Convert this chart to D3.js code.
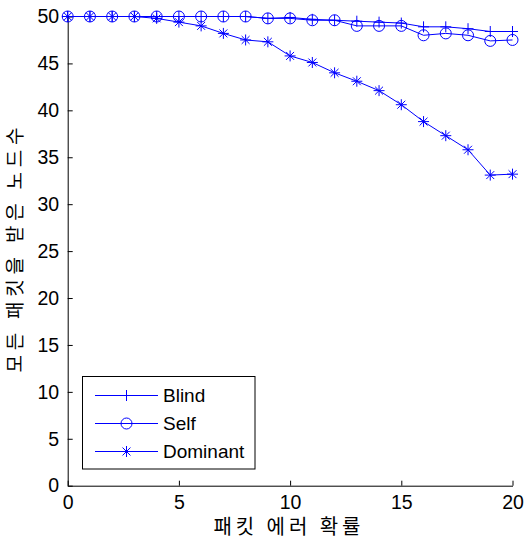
<!DOCTYPE html>
<html>
<head>
<meta charset="utf-8">
<script src="https://cdn.jsdelivr.net/npm/d3@7"></script>
<style>
  html, body { margin: 0; padding: 0; background: #fff; }
  svg { display: block; }
</style>
</head>
<body>
<svg id="chart" width="526" height="541"></svg>
<script>
// ---- data ----
const errorProb = [0,1,2,3,4,5,6,7,8,9,10,11,12,13,14,15,16,17,18,19,20];
const blind    = [50,50,50,50,50,50,50,50,50,49.8,49.9,49.7,49.6,49.5,49.4,49.3,48.9,48.9,48.7,48.4,48.4];
const self     = [50,50,50,50,50,50,50,50,50,49.8,49.8,49.6,49.6,49.0,49.0,49.0,48.0,48.2,48.0,47.4,47.5];
const dominant = [50,50,50,50,49.8,49.4,49.0,48.2,47.5,47.3,45.8,45.1,44.0,43.1,42.1,40.6,38.8,37.3,35.8,33.1,33.2];
const seriesNames = ["Blind", "Self", "Dominant"];
const xTicks = [0,5,10,15,20];
const yTicks = [0,5,10,15,20,25,30,35,40,45,50];
const xLabel = "패킷 에러 확률";
const yLabel = "모든 패킷을 받은 노드수";

const series = [
  { name: seriesNames[0], values: blind, marker: "plus" },
  { name: seriesNames[1], values: self, marker: "circle" },
  { name: seriesNames[2], values: dominant, marker: "star" }
];

const svg = d3.select("#chart");
const blue = "#0000ff";
const x = d3.scaleLinear().domain([0, 20]).range([67.7, 512.5]);
const y = d3.scaleLinear().domain([0, 50]).range([485.7, 16.5]);

const tickFont = "'Liberation Sans', Arial, sans-serif";

// axes
const xAxis = d3.axisBottom(x).tickValues(xTicks).tickSizeInner(-5).tickSizeOuter(0).tickPadding(9);
const yAxis = d3.axisLeft(y).tickValues(yTicks).tickSizeInner(-5).tickSizeOuter(0).tickPadding(8.5);

const gx = svg.append("g").attr("transform", `translate(0,${y(0)})`).call(xAxis);
const gy = svg.append("g").attr("transform", `translate(${x(0)},0)`).call(yAxis);
[gx, gy].forEach(g => {
  g.select(".domain").attr("stroke", "#000").attr("stroke-width", 1);
  g.selectAll(".tick line").attr("stroke", "#000");
  g.selectAll(".tick text").attr("fill", "#000").style("font-family", tickFont).style("font-size", "19.5px");
});

// lines
const line = d3.line().x((d, i) => x(errorProb[i])).y(d => y(d));

function drawMarker(g, type, cx, cy) {
  const r = 5.5;
  if (type === "plus" || type === "star") {
    g.append("line").attr("x1", cx - r).attr("x2", cx + r).attr("y1", cy).attr("y2", cy);
    g.append("line").attr("x1", cx).attr("x2", cx).attr("y1", cy - r).attr("y2", cy + r);
  }
  if (type === "star") {
    const d = r * 0.72;
    g.append("line").attr("x1", cx - d).attr("x2", cx + d).attr("y1", cy - d).attr("y2", cy + d);
    g.append("line").attr("x1", cx - d).attr("x2", cx + d).attr("y1", cy + d).attr("y2", cy - d);
  }
  if (type === "circle") {
    g.append("circle").attr("cx", cx).attr("cy", cy).attr("r", r).attr("fill", "none");
  }
}

series.forEach(s => {
  const g = svg.append("g").attr("stroke", blue).attr("stroke-width", 1).attr("fill", "none");
  g.append("path").attr("d", line(s.values));
  s.values.forEach((v, i) => drawMarker(g, s.marker, x(errorProb[i]), y(v)));
});

// legend
const lg = svg.append("g");
lg.append("rect").attr("x", 82.5).attr("y", 376.5).attr("width", 172.5).attr("height", 92.5)
  .attr("fill", "#fff").attr("stroke", "#000").attr("stroke-width", 1);
series.forEach((s, i) => {
  const ly = 395.5 + i * 28;
  const g = lg.append("g").attr("stroke", blue).attr("stroke-width", 1).attr("fill", "none");
  g.append("line").attr("x1", 95).attr("x2", 158).attr("y1", ly).attr("y2", ly);
  drawMarker(g, s.marker, 126.5, ly);
  lg.append("text").attr("x", 163).attr("y", ly).attr("dy", "0.36em")
    .style("font-family", tickFont).style("font-size", "19px").attr("fill", "#000").text(s.name);
});

// axis labels
const cjk = "'Noto Sans CJK KR', 'Noto Sans CJK SC', sans-serif";
svg.append("text").attr("x", 287).attr("y", 527).attr("dy", "0.36em").attr("text-anchor", "middle")
  .style("font-family", cjk).style("font-size", "20px").attr("fill", "#000")
  .attr("textLength", 147).attr("lengthAdjust", "spacing").text(xLabel);
svg.append("text").attr("transform", "translate(21.5,250) rotate(-90)").attr("text-anchor", "middle")
  .style("font-family", cjk).style("font-size", "19px").attr("fill", "#000")
  .attr("textLength", 245).attr("lengthAdjust", "spacing").text(yLabel);
</script>
</body>
</html>
